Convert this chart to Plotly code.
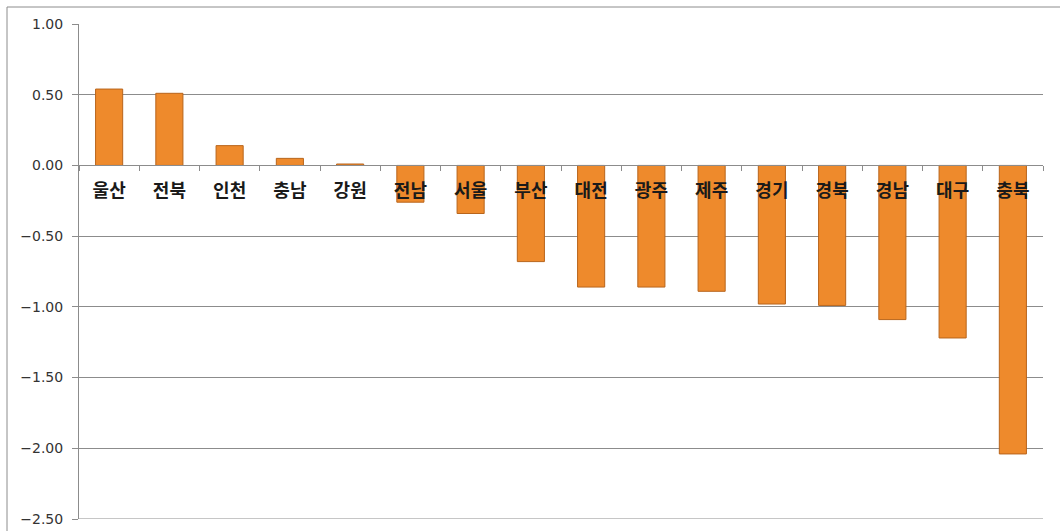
import plotly.graph_objects as go

regions = ["울산", "전북", "인천", "충남", "강원", "전남", "서울", "부산",
           "대전", "광주", "제주", "경기", "경북", "경남", "대구", "충북"]
values = [0.54, 0.51, 0.14, 0.05, 0.01, -0.26, -0.34, -0.68,
          -0.86, -0.86, -0.89, -0.98, -0.99, -1.09, -1.22, -2.04]
y_ticks = [1.0, 0.5, 0.0, -0.5, -1.0, -1.5, -2.0, -2.5]

fig = go.Figure()
fig.add_trace(go.Bar(
    x=regions, y=values,
    marker=dict(color="#EE8A2C", line=dict(color="#B8651C", width=1)),
    width=0.45,
))

W, H = 1060, 531
L, R, T, B = 79, 17, 24, 12
pw, ph = W - L - R, H - T - B

fig.update_layout(
    width=W, height=H,
    margin=dict(l=L, r=R, t=T, b=B, autoexpand=False),
    paper_bgcolor="white", plot_bgcolor="white",
    showlegend=False,
    bargap=0.55,
    xaxis=dict(
        type="category",
        anchor="free", position=2.5 / 3.5,
        showgrid=False, zeroline=False,
        showline=True, linecolor="#8c8c8c", linewidth=1,
        ticks="outside", tickson="boundaries", ticklen=5, tickcolor="#8c8c8c",
        tickfont=dict(family="Noto Sans CJK KR", size=18, color="#1a1a1a", weight="bold"),
        ticklabelstandoff=9,
        layer="above traces",
        automargin=False,
    ),
    yaxis=dict(
        range=[-2.5, 1.0],
        tickvals=y_ticks,
        tickformat=".2f",
        showgrid=True, gridcolor="#8c8c8c", gridwidth=1,
        zeroline=False,
        showline=True, linecolor="#8c8c8c", linewidth=1,
        ticks="outside", ticklen=6, tickcolor="#8c8c8c",
        tickfont=dict(family="DejaVu Sans", size=14, color="#333333"),
        ticklabelstandoff=6,
        automargin=False,
    ),
    shapes=[
        dict(type="rect", xref="paper", yref="paper",
             x0=(7 - L) / pw, x1=(W + 20 - L) / pw,
             y0=-(B + 20) / ph, y1=1 + (T - 7) / ph,
             line=dict(color="#8c8c8c", width=1), fillcolor="rgba(0,0,0,0)",
             layer="below"),
        dict(type="line", xref="paper", yref="y",
             x0=0, x1=1, y0=-2.5, y1=-2.5,
             line=dict(color="#8c8c8c", width=1), layer="below"),
    ],
)

fig.write_html("out.html")
